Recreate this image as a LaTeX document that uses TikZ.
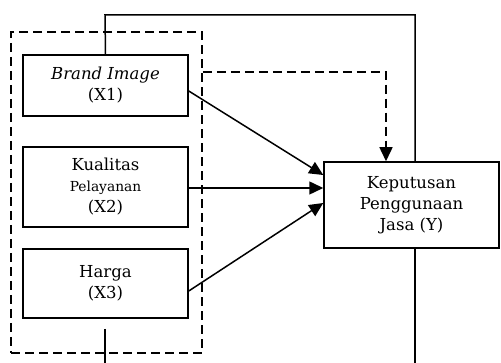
\documentclass[tikz,border=0pt]{standalone}
\usepackage{fontspec}
\setmainfont{DejaVu Serif}
\usetikzlibrary{arrows.meta}
\begin{document}
\begin{tikzpicture}[x=1pt,y=-1pt,
  box/.style={draw,line width=1.5pt,inner sep=0pt,align=center,
    font=\fontsize{16.5}{21}\selectfont},
  conn/.style={line width=1.5pt},
  tip/.style={-{Triangle[length=14pt,width=13pt]}},
  arr/.style={conn,tip},
  dashline/.style={line width=1.5pt,dash pattern=on 9pt off 5pt}]
\useasboundingbox (0,0) rectangle (501,363);
% dashed group
\node[dashline,draw,minimum width=191pt,minimum height=321pt,inner sep=0pt] (grp) at (106.5,192.5) {};
% boxes
\node[box,minimum width=165pt,minimum height=61pt] (x1) at (105.5,85.5) {\textit{Brand Image}\\(X1)};
\node[box,minimum width=165pt,minimum height=80pt] (x2) at (105.5,187) {Kualitas\\{\fontsize{13.8}{21}\selectfont Pelayanan}\\(X2)};
\node[box,minimum width=165pt,minimum height=69pt] (x3) at (105.5,283.5) {Harga\\(X3)};
\node[box,minimum width=175pt,minimum height=86pt] (y) at (411.5,205) {Keputusan\\Penggunaan\\Jasa (Y)};
% coordinates
\coordinate (topl) at (105,15);
\coordinate (topr) at (415,15);
\coordinate (botr) at (415,363);
\coordinate (botlt) at (105,329);
\coordinate (botlb) at (105,363);
\coordinate (dsh) at (386,72);
% top loop
\draw[conn] (x1.north) -- (topl) -- (topr) -- (y.north -| topr);
% bottom lines
\draw[conn] (y.south -| botr) -- (botr);
\draw[conn] (botlt) -- (botlb);
% dashed arrow
\draw[dashline,tip] (grp.east |- dsh) -- (dsh) -- (y.north -| dsh);
% solid arrows
\draw[arr] ([yshift=-5.5pt]x1.east) -- ([yshift=30pt]y.west);
\draw[arr] ([yshift=-1pt]x2.east) -- ([yshift=17pt]y.west);
\draw[arr] ([yshift=-7.5pt]x3.east) -- ([yshift=2pt]y.west);
\end{tikzpicture}
\end{document}
